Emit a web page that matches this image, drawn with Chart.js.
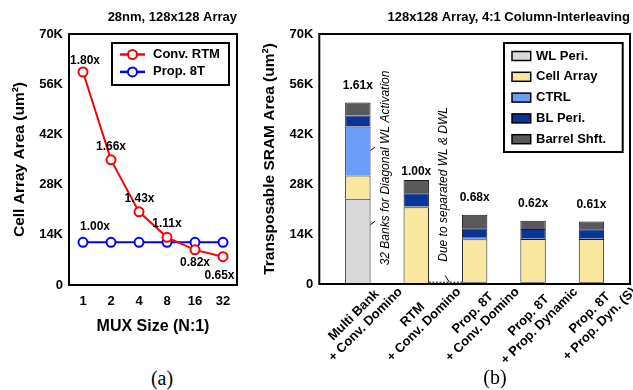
<!DOCTYPE html>
<html>
<head>
<meta charset="utf-8">
<script src="https://cdn.jsdelivr.net/npm/chart.js@4.4.1/dist/chart.umd.min.js"></script>
<style>
  html, body { margin: 0; padding: 0; background: #fff; }
  body { width: 633px; height: 390px; position: relative; overflow: hidden; }
  #wrapA { position: absolute; left: 0; top: 0; width: 250px; height: 345px; }
  #wrapB { position: absolute; left: 250px; top: 0; width: 383px; height: 390px; }
  .cap { position: absolute; font-family: "Liberation Serif", "Times New Roman", serif; font-size: 20px; color: #000; transform: translate(-50%, -50%); }
</style>
</head>
<body>
<div id="wrapA"><canvas id="chartA"></canvas></div>
<div id="wrapB"><canvas id="chartB"></canvas></div>
<div class="cap" style="left:162px; top:378px">(a)</div>
<div class="cap" style="left:495px; top:377px">(b)</div>
<script>
// (a) cell array area vs. MUX size
const muxSizes = ['1', '2', '4', '8', '16', '32'];
const convRtm = [59400, 34900, 20400, 13300, 9800, 7900];
const prop8t = [11900, 11900, 11900, 11900, 11900, 11900];
const convRtmRatio = ['1.80x', '1.66x', '1.43x', '1.11x', '0.82x', '0.65x'];
const prop8tRatio = '1.00x';

// (b) transposable SRAM area breakdown
const designs = [
  ['Multi Bank', '+ Conv. Domino'],
  ['RTM', '+ Conv. Domino'],
  ['Prop. 8T', '+ Conv. Domino'],
  ['Prop. 8T', '+ Prop. Dynamic'],
  ['Prop. 8T', '+ Prop. Dyn. (S)']
];
const wlPeri = [23900, 300, 500, 500, 500];
const cellArray = [6500, 21200, 12000, 12100, 12100];
const ctrl = [13700, 300, 600, 300, 300];
const blPeri = [3100, 3600, 2500, 2500, 2400];
const barrelShft = [3600, 3750, 3800, 2300, 2200];
const totalRatio = ['1.61x', '1.00x', '0.68x', '0.62x', '0.61x'];

const FONT = '"Liberation Sans", Arial, sans-serif';
Chart.defaults.font.family = FONT;
Chart.defaults.color = '#000';

const kTick = v => (v === 0 ? '0' : (v / 1000) + 'K');

// pad the shorter line so rotated two-line labels look centred
const measure = document.createElement('canvas').getContext('2d');
function centerLines(lines) {
  measure.font = 'bold 13px ' + FONT;
  const widths = lines.map(t => measure.measureText(t).width);
  const w = Math.max(...widths);
  const sp = measure.measureText(' ').width;
  return lines.map((t, i) => t + ' '.repeat(Math.round((w - widths[i]) / 2 / sp)));
}

// box round the plot area
const frame = {
  id: 'frame',
  afterDatasetsDraw(chart) {
    const { ctx, chartArea: a } = chart;
    ctx.save();
    ctx.strokeStyle = '#000';
    ctx.lineWidth = 2;
    ctx.strokeRect(a.left, a.top, a.right - a.left, a.bottom - a.top);
    ctx.restore();
  }
};

const legendA = {
  id: 'legendA',
  afterDraw(chart) {
    const { ctx, chartArea: a } = chart;
    const left = a.left + 43, top = a.top + 9;
    ctx.save();
    ctx.fillStyle = '#fff';
    ctx.fillRect(left, top, 117, 42);
    ctx.strokeStyle = '#000';
    ctx.lineWidth = 2;
    ctx.strokeRect(left, top, 117, 42);
    chart.data.datasets.forEach((ds, i) => {
      const y = top + 11.5 + i * 17.4;
      ctx.strokeStyle = ds.borderColor;
      ctx.lineWidth = 2.5;
      ctx.beginPath();
      ctx.moveTo(left + 8, y);
      ctx.lineTo(left + 33, y);
      ctx.stroke();
      ctx.beginPath();
      ctx.arc(left + 20.5, y, 4.5, 0, Math.PI * 2);
      ctx.fillStyle = '#fff';
      ctx.fill();
      ctx.lineWidth = 2;
      ctx.stroke();
      ctx.fillStyle = '#000';
      ctx.font = 'bold 13px ' + FONT;
      ctx.textBaseline = 'middle';
      ctx.fillText(ds.label, left + 41, y);
    });
    ctx.restore();
  }
};

const ratioA = {
  id: 'ratioA',
  afterDatasetsDraw(chart) {
    const { ctx } = chart;
    const pts = chart.getDatasetMeta(0).data;
    const shift = [[2, -11], [0, -13], [0.5, -13], [0, -14], [0, 13], [-3.5, 19]];
    ctx.save();
    ctx.font = 'bold 12px ' + FONT;
    ctx.textAlign = 'center';
    ctx.textBaseline = 'middle';
    ctx.fillStyle = '#000';
    convRtmRatio.forEach((t, i) => ctx.fillText(t, pts[i].x + shift[i][0], pts[i].y + shift[i][1]));
    const p = chart.getDatasetMeta(1).data[0];
    ctx.fillText(prop8tRatio, p.x + 12, p.y - 16);
    ctx.restore();
  }
};

new Chart(document.getElementById('chartA'), {
  type: 'line',
  data: {
    labels: muxSizes,
    datasets: [
      { label: 'Conv. RTM', data: convRtm, borderColor: '#ff0000', borderWidth: 2, pointRadius: 4.5,
        pointBorderWidth: 2, pointBackgroundColor: '#fff', pointBorderColor: '#ff0000', tension: 0 },
      { label: 'Prop. 8T', data: prop8t, borderColor: '#0000ff', borderWidth: 2, pointRadius: 4.5,
        pointBorderWidth: 2, pointBackgroundColor: '#fff', pointBorderColor: '#0000ff', tension: 0 }
    ]
  },
  options: {
    responsive: true,
    maintainAspectRatio: false,
    animation: false,
    layout: { padding: { left: 0, right: 13, top: 0, bottom: 0 } },
    plugins: {
      legend: { display: false },
      tooltip: { enabled: false },
      title: { display: true, text: '28nm, 128x128 Array', align: 'end', fullSize: false,
        font: { size: 13, weight: 'bold' }, color: '#000', padding: { top: 10, bottom: 8.4 } }
    },
    scales: {
      x: {
        offset: true,
        grid: { display: false, drawTicks: false },
        border: { display: false },
        ticks: { font: { size: 13, weight: 'bold' }, padding: 8.2 },
        title: { display: true, text: 'MUX Size (N:1)', font: { size: 16, weight: 'bold' }, padding: { top: 0, bottom: 8.7 } },
        afterFit: s => { s.height = 60; }
      },
      y: {
        min: 0, max: 70000,
        grid: { display: false, drawTicks: false },
        border: { display: false },
        ticks: { stepSize: 14000, callback: kTick, font: { size: 13, weight: 'bold' }, padding: 6 },
        title: { display: true, text: 'Cell Array Area (um²)', font: { size: 15.5, weight: 'bold' }, padding: { top: 10.7, bottom: 0 } },
        afterFit: s => { s.width = 69; }
      }
    }
  },
  plugins: [frame, ratioA, legendA]
});

const legendB = {
  id: 'legendB',
  afterDraw(chart) {
    const { ctx, chartArea: a } = chart;
    const w = 118.7, h = 109;
    const left = a.right - 7.3 - w, top = a.top + 9;
    ctx.save();
    ctx.fillStyle = '#fff';
    ctx.fillRect(left, top, w, h);
    ctx.strokeStyle = '#000';
    ctx.lineWidth = 2;
    ctx.strokeRect(left, top, w, h);
    chart.data.datasets.forEach((ds, i) => {
      const y = top + 13 + i * 20.8;
      ctx.fillStyle = ds.backgroundColor;
      ctx.fillRect(left + 8, y - 4.5, 18.7, 9);
      ctx.strokeStyle = '#000';
      ctx.lineWidth = 1.5;
      ctx.strokeRect(left + 8, y - 4.5, 18.7, 9);
      ctx.fillStyle = '#000';
      ctx.font = 'bold 13px ' + FONT;
      ctx.textBaseline = 'middle';
      ctx.fillText(ds.label, left + 32, y);
    });
    ctx.restore();
  }
};

const notesB = {
  id: 'notesB',
  afterDatasetsDraw(chart) {
    const { ctx, scales: { x, y } } = chart;
    const px = v => x.getPixelForValue(v), py = v => y.getPixelForValue(v);
    ctx.save();
    ctx.fillStyle = '#000';
    ctx.strokeStyle = '#000';

    // ratio above each bar
    const gap = [17, 8, 17, 17, 17];
    ctx.font = 'bold 12px ' + FONT;
    ctx.textAlign = 'center';
    ctx.textBaseline = 'middle';
    totalRatio.forEach((t, i) => {
      const total = wlPeri[i] + cellArray[i] + ctrl[i] + blPeri[i] + barrelShft[i];
      ctx.fillText(t, px(i), py(total) - gap[i]);
    });

    // rotated notes
    const note = (text, xv, yv) => {
      ctx.save();
      ctx.translate(px(xv), py(yv));
      ctx.rotate(-Math.PI / 2);
      ctx.font = 'italic 12px ' + FONT;
      ctx.fillText(text, 0, 0);
      ctx.restore();
    };
    note('32 Banks for Diagonal WL Activation', 0.48, 32500);
    note('Due to separated WL & DWL', 1.475, 27900);

    // leader lines
    const seg = (x1, y1, x2, y2) => {
      ctx.beginPath();
      ctx.moveTo(px(x1), py(y1));
      ctx.lineTo(px(x2), py(y2));
      ctx.stroke();
    };
    ctx.lineWidth = 1;
    seg(0.217, 37400, 0.294, 38300);
    seg(0.217, 16600, 0.294, 17600);
    seg(1.493, 2400, 1.567, 500);
    ctx.setLineDash([2, 1.5]);
    seg(1.217, 500, 1.783, 500);
    ctx.restore();
  }
};

const seriesB = [
  ['WL Peri.', wlPeri, '#d9d9d9'],
  ['Cell Array', cellArray, '#f9e79f'],
  ['CTRL', ctrl, '#6b9cf7'],
  ['BL Peri.', blPeri, '#0a3596'],
  ['Barrel Shft.', barrelShft, '#595959']
];

new Chart(document.getElementById('chartB'), {
  type: 'bar',
  data: {
    datasets: seriesB.map(([label, vals, color]) => ({
      label,
      data: vals.map((v, i) => ({ x: i, y: v })),
      backgroundColor: color,
      borderColor: '#1a1a1a',
      borderWidth: 1,
      categoryPercentage: 1,
      barPercentage: 0.435
    }))
  },
  options: {
    responsive: true,
    maintainAspectRatio: false,
    animation: false,
    layout: { padding: { left: 0, right: 3, top: 0, bottom: 0 } },
    plugins: {
      legend: { display: false },
      tooltip: { enabled: false },
      title: { display: true, text: '128x128 Array, 4:1 Column-Interleaving', align: 'end', fullSize: false,
        font: { size: 13, weight: 'bold' }, color: '#000', padding: { top: 10, bottom: 8.4 } }
    },
    scales: {
      x: {
        type: 'linear',
        min: -0.66, max: 4.66,
        offset: false,
        stacked: true,
        grid: { display: false, drawTicks: false, offset: false },
        border: { display: false },
        ticks: {
          stepSize: 1, includeBounds: false, autoSkip: false,
          minRotation: 45, maxRotation: 45, labelOffset: 32, padding: -10,
          font: { size: 13, weight: 'bold', lineHeight: 1.15 },
          callback: v => (Number.isInteger(v) && designs[v] ? centerLines(designs[v]) : '')
        },
        afterFit: s => { s.height = 106; }
      },
      y: {
        min: 0, max: 70000,
        stacked: true,
        grid: { display: false, drawTicks: false },
        border: { display: false },
        ticks: { stepSize: 14000, callback: kTick, font: { size: 13, weight: 'bold' }, padding: 6 },
        title: { display: true, text: 'Transposable SRAM Area (um²)', font: { size: 15.5, weight: 'bold' }, padding: { top: 10.7, bottom: 0 } },
        afterFit: s => { s.width = 69.3; }
      }
    }
  },
  plugins: [frame, notesB, legendB]
});
</script>
</body>
</html>
